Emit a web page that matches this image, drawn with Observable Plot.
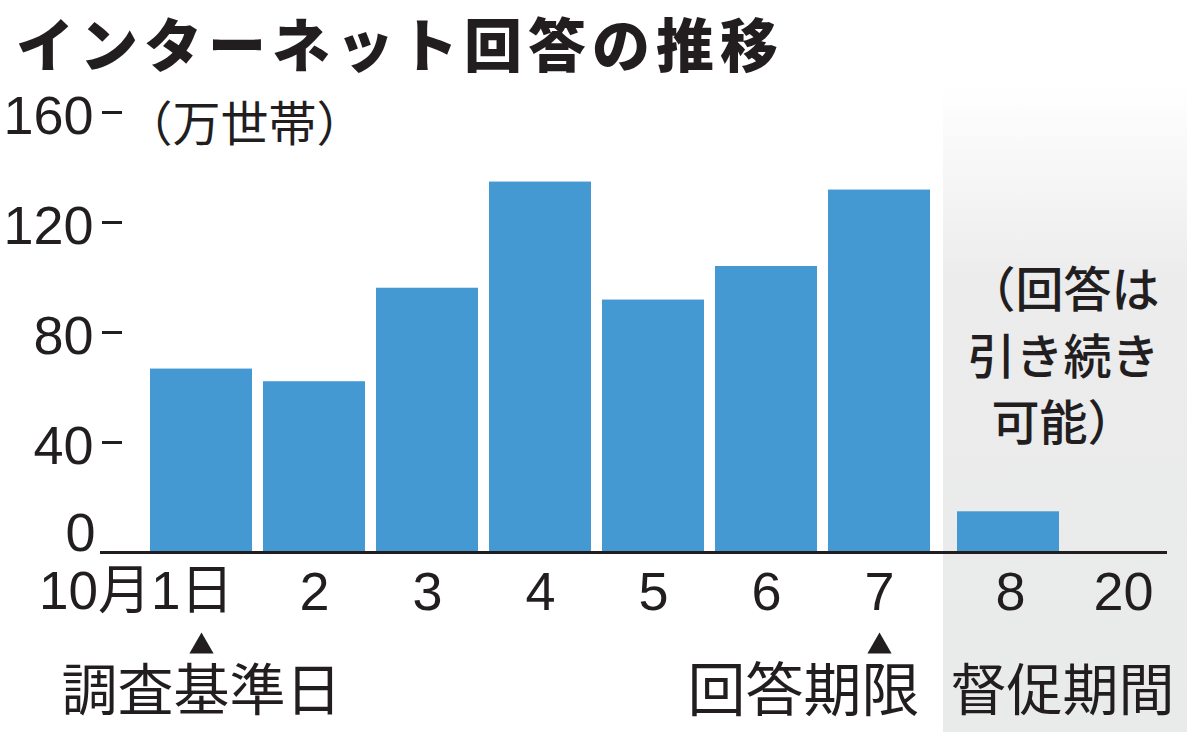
<!DOCTYPE html>
<html><head><meta charset="utf-8">
<script src="https://cdn.jsdelivr.net/npm/d3@7"></script>
<script src="https://cdn.jsdelivr.net/npm/@observablehq/plot@0.6"></script>
<style>
body{margin:0;background:#fff;width:1200px;height:732px;overflow:hidden}
#title{margin:0;height:84px;line-height:84px;font-family:"Noto Sans CJK JP",sans-serif;font-weight:900;font-size:58px;padding-left:16px;letter-spacing:6px;color:#221e1f;white-space:nowrap}
#chart svg{display:block}
#chart g[aria-label="unit"] text{letter-spacing:7px}
</style></head><body>
<div id="title">インターネット回答の推移</div>
<div id="chart"></div>
<script>
// ---- data ----
const days = ["1","2","3","4","5","6","7","8","20"];
const dayLabels = ["10月1日","2","3","4","5","6","7","8","20"];
const households = [66.7, 62.1, 96.1, 134.7, 91.8, 104.0, 131.8, 14.8, null]; // 万世帯
const reminderDays = ["8","20"];
const yTicks = [40, 80, 120, 160];
const zeroTick = [0];
const unitLabel = "（万世帯）";
const markerDays = ["1","7"];
const markerTexts = ["調査基準日","回答期限"];
const reminderLabel = "督促期間";
const reminderNote = "（回答は\n引き続き\n可能）";

// ---- tables built from arrays ----
const table = days.map((d,i)=>({day:d, label:dayLabels[i], value:households[i], reminder: reminderDays.includes(d)}));
const regular = table.filter(r=>!r.reminder && r.value != null);
const reminder = table.filter(r=>r.reminder && r.value != null);
const ink = "#221e1f";
const blue = "#4599d3";
const font = "'Liberation Sans','Noto Sans CJK JP',sans-serif";
const jp = "'Noto Sans CJK JP',sans-serif";

const W = 1200, H = 648, mL = 122, mR = 33;
const frameWidth = W - mL - mR;

function shading(index, scales, values, dim) {
  const g = d3.create("svg:g");
  const defs = g.append("defs");
  const grad = defs.append("linearGradient").attr("id","shadeGrad")
    .attr("x1",0).attr("x2",0).attr("y1",0).attr("y2",1);
  grad.append("stop").attr("offset","0").attr("stop-color","#ffffff");
  grad.append("stop").attr("offset","0.08").attr("stop-color","#fafafa");
  grad.append("stop").attr("offset","0.30").attr("stop-color","#ececec");
  grad.append("stop").attr("offset","1").attr("stop-color","#e9eaea");
  const left = scales.x(reminderDays[0]) + 2;
  const right = dim.width - 13;
  g.append("rect").attr("x",left).attr("y",0).attr("width",right-left).attr("height",dim.height)
    .attr("fill","url(#shadeGrad)");
  return g.node();
}

const chart = Plot.plot({
  width: W, height: H,
  marginLeft: mL, marginRight: mR, marginTop: 28, marginBottom: 180,
  style: {fontFamily: font, color: ink, background: "transparent"},
  x: {type:"band", domain: days, range:[150, 1156], paddingInner:0.1, paddingOuter:0, axis:null},
  y: {domain:[0,160], axis:null},
  marks: [
    shading,
    Plot.barY(regular, {x:"day", y:"value", fill: blue}),
    Plot.barY(reminder, {x:"day", y:"value", fill: blue, dx: 16}),
    Plot.ruleY([0], {insetLeft:-22, stroke: ink, strokeWidth: 3}),
    Plot.ruleY(yTicks, {insetLeft: -20, insetRight: frameWidth, stroke: ink, strokeWidth: 3}),
    Plot.text(yTicks, {y: d=>d, frameAnchor:"left", textAnchor:"end", dx:-29, dy: 4, text: d=>String(d), fontSize:54, fill: ink}),
    Plot.text(zeroTick, {y: d=>d, frameAnchor:"left", textAnchor:"end", dx:-27, dy:-19, text: d=>String(d), fontSize:54, fill: ink}),
    Plot.text([unitLabel], {ariaLabel:"unit", frameAnchor:"top-left", textAnchor:"start", lineAnchor:"middle", dx: 2, dy: 13, text: d=>d, fontSize: 48, fill: ink, fontFamily: jp}),
    // x labels
    Plot.text(table.filter(r=>r.day===days[0]), {x:"day", y: ()=>0, text:"label", textAnchor:"end", dx: 32, dy: 40, fontSize: 53, fill: ink}),
    Plot.text(table.filter(r=>r.day!==days[0] && !r.reminder), {x:"day", y: ()=>0, text:"label", dy: 40, fontSize: 54, fill: ink}),
    Plot.text(table.filter(r=>r.reminder), {x:"day", y: ()=>0, text:"label", dx: 18, dy: 40, fontSize: 54, fill: ink}),
    // markers
    Plot.dot(markerDays, {x: d=>d, y: ()=>0, symbol:"triangle", r: 9, fill: ink, stroke: null, dy: 94}),
    Plot.text([markerDays[0]], {x: d=>d, y: ()=>0, text: ()=>markerTexts[0], dy: 140, fontSize: 56, fill: ink, fontFamily: jp}),
    Plot.text([markerDays[1]], {x: d=>d, y: ()=>0, text: ()=>markerTexts[1], textAnchor:"end", dx: 40, dy: 140, fontSize: 58, fill: ink, fontFamily: jp}),
    Plot.text([reminderDays[0]], {x: d=>d, y: ()=>0, text: ()=>reminderLabel, dx: 70, dy: 140, fontSize: 56, fill: ink, fontFamily: jp}),
    Plot.text([reminderDays[1]], {x: d=>d, frameAnchor:"middle", text: ()=>reminderNote, dx: -42, dy: 20, fontSize: 48, lineHeight: 1.38, fill: ink, fontFamily: jp, fontWeight: 500})
  ]
});
document.getElementById("chart").append(chart);
</script>
</body></html>
